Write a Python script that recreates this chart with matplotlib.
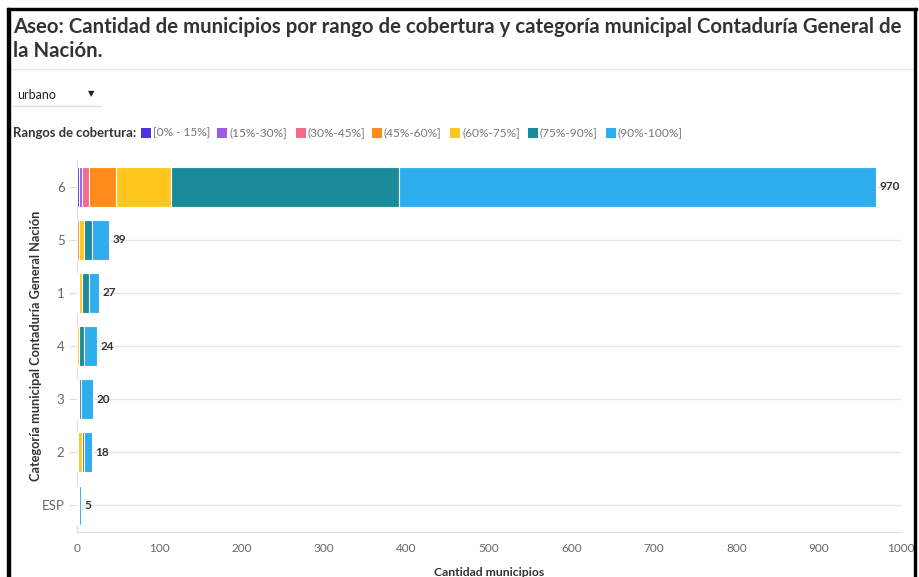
import matplotlib
matplotlib.use('Agg')
import matplotlib.pyplot as plt
from matplotlib.patches import Rectangle
import numpy as np

plt.rcParams['font.family'] = ['Lato', 'DejaVu Sans']

# categories from top to bottom
categorias = ['6', '5', '1', '4', '3', '2', 'ESP']
rangos = ['[0% - 15%]', '(15%-30%]', '(30%-45%]', '(45%-60%]',
          '(60%-75%]', '(75%-90%]', '(90%-100%]']
colores = ['#4a35e0', '#9b5de5', '#f7698d', '#ff8c1a',
           '#ffc61e', '#1b8a99', '#2eaeec']

# municipalities per coverage range, one list per range (order of categorias)
r0_15 = [2, 0, 0, 0, 0, 0, 0]
r15_30 = [4, 0, 1, 0, 0, 0, 0]
r30_45 = [9, 0, 0, 0, 0, 0, 0]
r45_60 = [32, 3, 2, 0, 1, 1, 1]
r60_75 = [67, 5, 3, 3, 2, 5, 1]
r75_90 = [277, 10, 9, 6, 2, 2, 1]
r90_100 = [579, 21, 12, 15, 15, 10, 2]
totales = [970, 39, 27, 24, 20, 18, 5]

series = [r0_15, r15_30, r30_45, r45_60, r60_75, r75_90, r90_100]

W, H = 919, 577
fig = plt.figure(figsize=(W / 100, H / 100), dpi=100)

def fx(px):
    return px / W

def fy(py):
    return 1 - py / H

# frame lines of the original screenshot
fig.patches.append(Rectangle((fx(7), 0), fx(3), fy(8), transform=fig.transFigure,
                             color='black', zorder=5))
fig.patches.append(Rectangle((fx(7), fy(10)), fx(910), 2 / H, transform=fig.transFigure,
                             color='black', zorder=5))
fig.patches.append(Rectangle((fx(914), 0), fx(2), fy(8), transform=fig.transFigure,
                             color='black', zorder=5))

fig.text(fx(13), fy(27), 'Aseo: Cantidad de municipios por rango de cobertura y categoría municipal Contaduría General de',
         fontsize=14.7, fontweight='bold', color='#333333', va='center')
fig.text(fx(13), fy(51), 'la Nación.', fontsize=14.7, fontweight='bold', color='#333333', va='center')
fig.add_artist(plt.Line2D([fx(10), fx(914)], [fy(69), fy(69)], color='#e6e6e6', lw=1))

# dropdown
fig.text(fx(17), fy(95), 'urbano', fontsize=9, color='#222222', va='center')
fig.text(fx(91), fy(94), '▼', fontsize=6, color='#222222', va='center', ha='center',
         family='DejaVu Sans')
fig.add_artist(plt.Line2D([fx(13), fx(100)], [fy(106), fy(106)], color='#dddddd', lw=1))

# legend
fig.text(fx(13), fy(133), 'Rangos de cobertura:', fontsize=9.4, fontweight='bold',
         color='#333333', va='center')
leg_x = [141, 217, 296, 372, 450, 528, 606]
for x0, lab, col in zip(leg_x, rangos, colores):
    fig.patches.append(Rectangle((fx(x0), fy(138)), fx(10), 10 / H, transform=fig.transFigure,
                                 facecolor=col, edgecolor='none'))
    fig.text(fx(x0 + 12), fy(133), lab, fontsize=8.6, color='#777777', va='center')

ax = fig.add_axes([fx(77), fy(532), fx(901) - fx(77), fy(160) - fy(532)])
y = np.arange(len(categorias))
left = np.zeros(len(categorias))
for vals, col in zip(series, colores):
    vals = np.array(vals)
    ax.barh(y, vals, left=left, height=0.75, color=col, edgecolor='white', linewidth=0.8, zorder=3)
    left += vals

for yi, t in zip(y, totales):
    ax.text(t + 4, yi, str(t), fontsize=8.5, fontweight='bold', color='#333333',
            va='center', ha='left')

ax.set_ylim(len(categorias) - 0.5, -0.5)
ax.set_xlim(0, 1000)
ax.set_xticks(np.arange(0, 1001, 100))
ax.set_yticks(y)
ax.set_yticklabels(categorias)
ax.tick_params(axis='x', length=0, labelsize=8.5, labelcolor='#666666', pad=8)
ax.tick_params(axis='y', length=6, color='#dddddd', labelsize=9.5, labelcolor='#666666', pad=3)
ax.grid(axis='y', color='#e6e6e6', lw=1, zorder=0)
for s in ['top', 'right']:
    ax.spines[s].set_visible(False)
ax.spines['left'].set_color('#dddddd')
ax.spines['bottom'].set_color('#dddddd')

ax.set_xlabel('Cantidad municipios', fontsize=8.8, fontweight='bold', color='#333333', labelpad=9)
ax.set_ylabel('Categoría municipal Contaduría General Nación', fontsize=9.2, fontweight='bold',
              color='#333333', labelpad=0)

fig.savefig('out.png', dpi=100)
